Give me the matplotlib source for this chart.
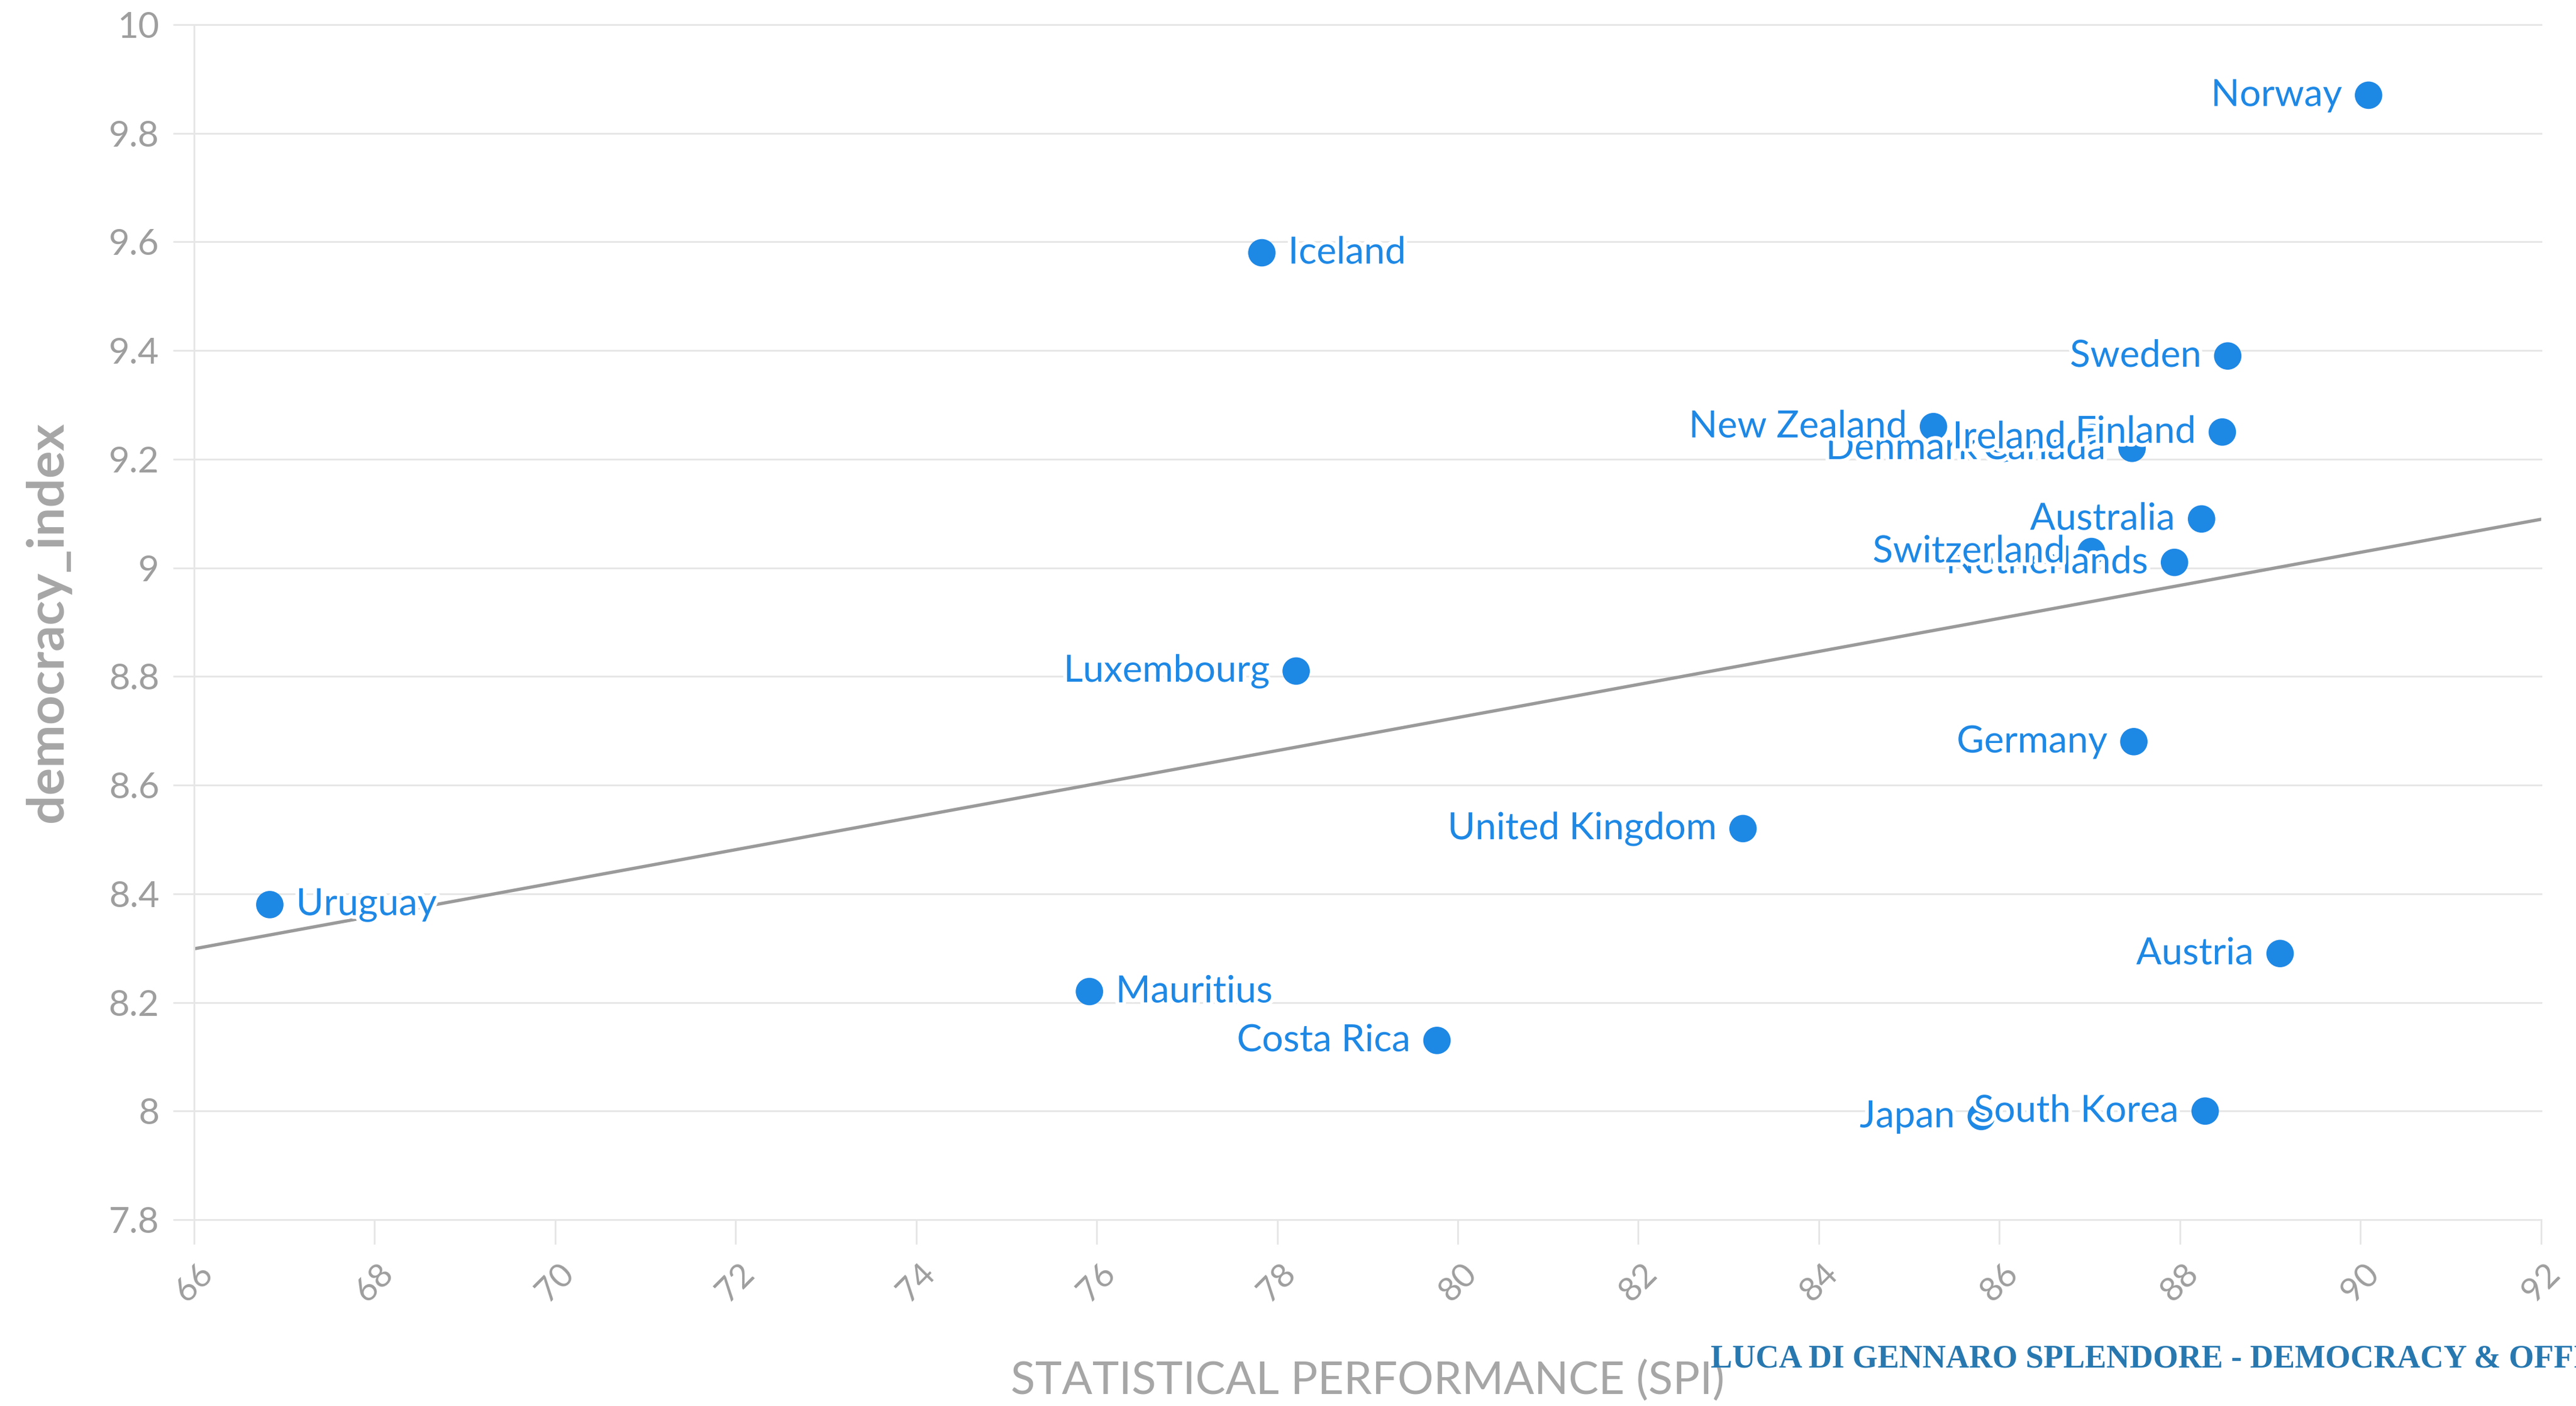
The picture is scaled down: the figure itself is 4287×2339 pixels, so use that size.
import numpy as np
import matplotlib
matplotlib.use("Agg")
import matplotlib.pyplot as plt
import matplotlib.patheffects as pe

# statistical performance (SPI) vs democracy index
countries = ["Australia", "Austria", "Canada", "Costa Rica", "Denmark", "Finland",
             "Germany", "Iceland", "Ireland", "Japan", "Luxembourg", "Mauritius",
             "Netherlands", "New Zealand", "Norway", "South Korea", "Sweden",
             "Switzerland", "United Kingdom", "Uruguay"]
spi = [88.24, 89.11, 87.47, 79.77, 86.05, 88.47,
       87.49, 77.83, 87.03, 85.80, 78.21, 75.92,
       87.94, 85.27, 90.09, 88.28, 88.53,
       87.02, 83.16, 66.84]
democracy = [9.09, 8.29, 9.22, 8.13, 9.22, 9.25,
             8.68, 9.58, 9.24, 7.99, 8.81, 8.22,
             9.01, 9.26, 9.87, 8.00, 9.39,
             9.03, 8.52, 8.38]
right_side = ["Iceland", "Mauritius", "Uruguay"]

x_ticks = list(range(66, 93, 2))
y_ticks = [7.8, 8, 8.2, 8.4, 8.6, 8.8, 9, 9.2, 9.4, 9.6, 9.8, 10]
y_ticklabels = ["7.8", "8", "8.2", "8.4", "8.6", "8.8", "9", "9.2", "9.4", "9.6", "9.8", "10"]

blue = "#1e88e5"
grid_col = "#e6e6e6"
tick_col = "#9e9e9e"

fig = plt.figure(figsize=(4287 / 300, 2339 / 300), dpi=300)
ax = fig.add_axes([0.0753, 0.1325, 0.9111, 0.8500])

ax.set_xlim(66, 92)
ax.set_ylim(7.8, 10)

# regression line
coef = np.polyfit(spi, democracy, 1)
xl = np.array([66, 92])
ax.plot(xl, np.polyval(coef, xl), color="#9a9a9a", lw=1.3, zorder=2)

ax.scatter(spi, democracy, s=120, color=blue, edgecolors="none", zorder=3)

for name, x, y in zip(countries, spi, democracy):
    if name in right_side:
        off, ha = 10.5, "left"
    else:
        off, ha = -10.5, "right"
    ax.annotate(name, (x, y), xytext=(off, 0), textcoords="offset points",
                ha=ha, va="center", fontsize=15, family="Lato", color=blue,
                zorder=4,
                path_effects=[pe.withStroke(linewidth=3, foreground="white")])

ax.set_xticks(x_ticks)
ax.set_yticks(y_ticks)
ax.set_yticklabels(y_ticklabels)
ax.tick_params(axis="y", length=8.4, width=0.7, color=grid_col, pad=5.5,
               labelsize=14.5, labelcolor=tick_col)
ax.tick_params(axis="x", length=9.8, width=0.7, color=grid_col, pad=5.5,
               labelsize=13.5, labelcolor=tick_col)
for lab in ax.get_xticklabels():
    lab.set_rotation(45)
    lab.set_ha("center")
    lab.set_family("Lato")
for lab in ax.get_yticklabels():
    lab.set_family("Lato")

ax.grid(axis="y", color=grid_col, lw=0.7)
ax.set_axisbelow(True)
for line in ax.get_ygridlines():
    line.set_clip_on(False)
for s in ["top", "right", "bottom"]:
    ax.spines[s].set_visible(False)
ax.spines["left"].set_color(grid_col)
ax.spines["left"].set_linewidth(0.7)

ax.set_ylabel("democracy_index", fontsize=20.5, fontweight="bold", family="Lato",
              color="#a6a6a6", labelpad=15)
fig.text(0.531, 0.018, "STATISTICAL PERFORMANCE (SPI)", ha="center", va="center",
         fontsize=18, family="Lato", color="#a6a6a6")

fig.text(0.664, 0.033, "LUCA DI GENNARO SPLENDORE - DEMOCRACY & OFFICIAL STATISTICS",
         ha="left", va="center", fontsize=12.9, fontweight="bold",
         family="Liberation Serif", color="#2878b0")

fig.savefig("out.png", dpi=300)
